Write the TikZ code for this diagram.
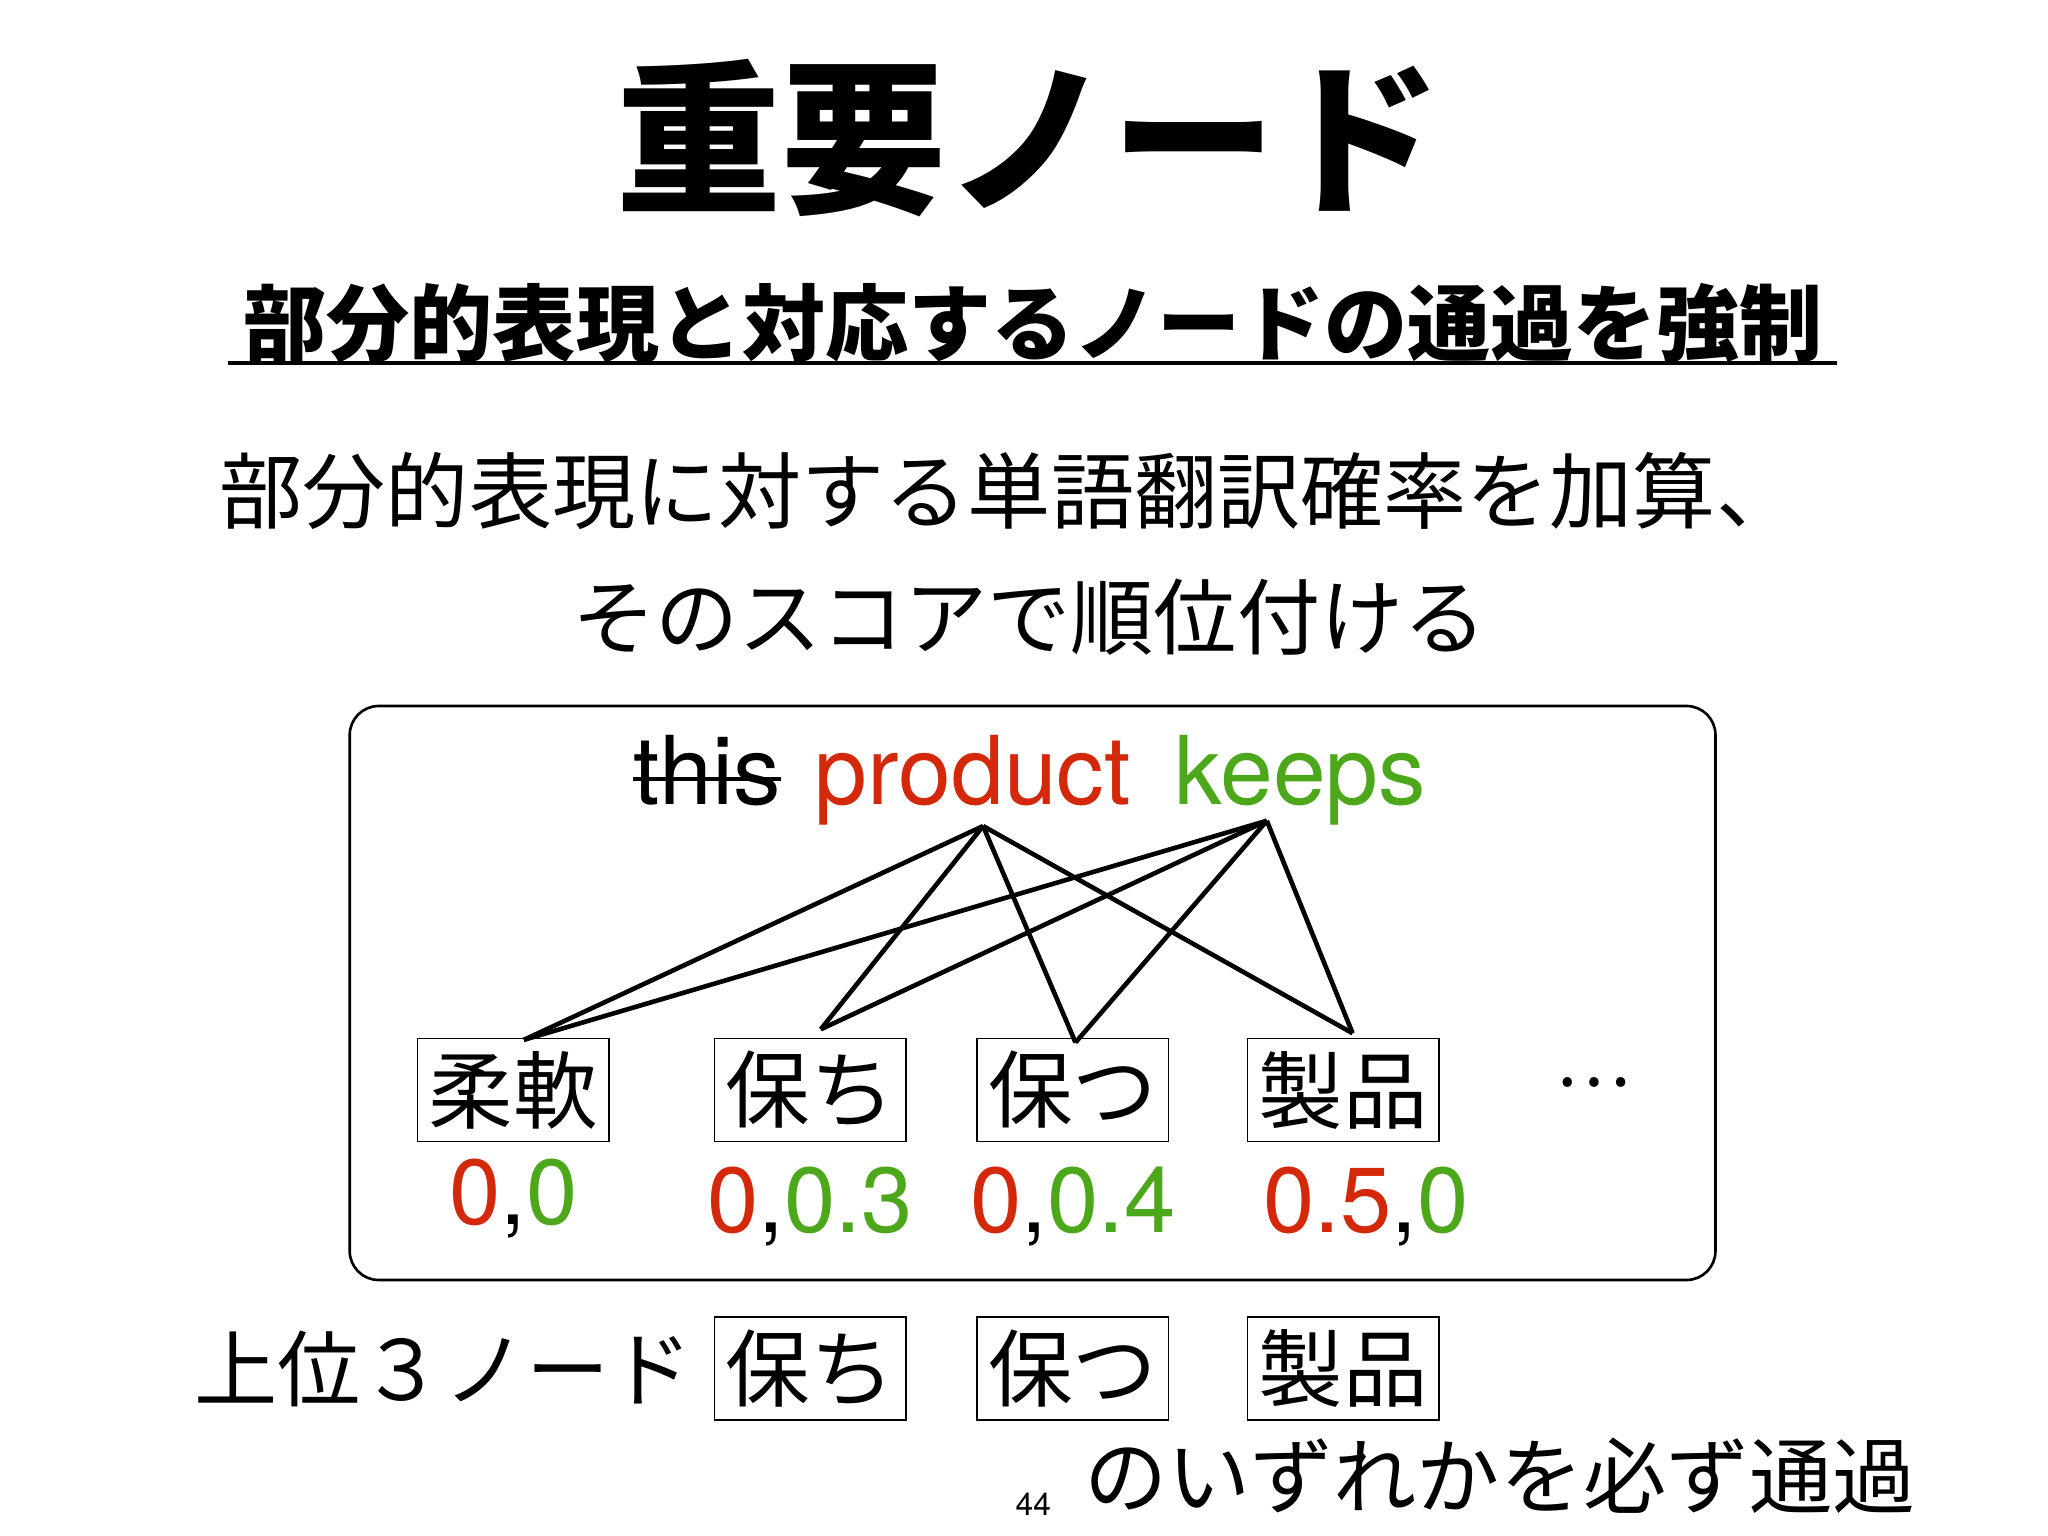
\documentclass[tikz,border=0pt]{standalone}
\usepackage{fontspec}
\newfontfamily\jp{Noto Sans CJK JP}
\newfontfamily\en{TeX Gyre Heros}
\definecolor{rd}{RGB}{212,40,10}
\definecolor{gn}{RGB}{76,168,26}
\begin{document}
\begin{tikzpicture}[x=1pt,y=-1pt,
  wbox/.style={draw,line width=1.2pt,minimum width=145pt,minimum height=78pt,inner sep=0pt,font=\jp\fontsize{64}{64}\selectfont},
  edge/.style={line width=3.5pt},
  sc/.style={font=\en\fontsize{70}{70}\selectfont,inner sep=0pt}]
\useasboundingbox (0,0) rectangle (1552,1164);
\fill[white] (0,0) rectangle (1552,1164);
\node (title) at (780,105) {\jp\bfseries\fontsize{125}{125}\selectfont 重要ノード};
\node (sub) at (783,245) {\jp\bfseries\fontsize{63}{63}\selectfont 部分的表現と対応するノードの通過を強制};
\draw[line width=3.5pt] (173,275) -- (1392,275);
\node (l1) at (765,372) {\jp\fontsize{63}{63}\selectfont 部分的表現に対する単語翻訳確率を加算、};
\node (l2) at (780,468) {\jp\fontsize{63}{63}\selectfont そのスコアで順位付ける};
\draw[rounded corners=22pt,line width=2pt] (265,535) rectangle (1300,970);
\node[inner sep=0pt,anchor=base west] (this) at (480,610) {\en\fontsize{72}{72}\selectfont this};
\draw[line width=3pt] (this.west|-0,590) -- (this.east|-0,590);
\node[inner sep=0pt,anchor=base west,text=rd] (prod) at (617,610) {\en\fontsize{72}{72}\selectfont product};
\node[inner sep=0pt,anchor=base west,text=gn] (keeps) at (890,610) {\en\fontsize{72}{72}\selectfont keeps};
\coordinate (pp) at (745,626);
\coordinate (kk) at (960,622);
\node[wbox] (a) at (389,826) {柔軟};
\node[wbox] (b) at (614,826) {保ち};
\node[wbox] (c) at (813,826) {保つ};
\node[wbox] (d) at (1018,826) {製品};
\node (dots) at (1207,820) {\jp\fontsize{54}{54}\selectfont …};
\coordinate (at) at (397,788);
\coordinate (bt) at (622,780);
\coordinate (ct) at (815,790);
\coordinate (dt) at (1025,783);
\draw[edge] (pp) -- (at); \draw[edge] (pp) -- (bt); \draw[edge] (pp) -- (ct); \draw[edge] (pp) -- (dt);
\draw[edge] (kk) -- (at); \draw[edge] (kk) -- (bt); \draw[edge] (kk) -- (ct); \draw[edge] (kk) -- (dt);
\node[sc] (sa) at (389,908) {\textcolor{rd}{0},\textcolor{gn}{0}};
\node[sc] (sb) at (614,914) {\textcolor{rd}{0},\textcolor{gn}{0.3}};
\node[sc] (scc) at (813,914) {\textcolor{rd}{0},\textcolor{gn}{0.4}};
\node[sc] (sd) at (1035,914) {\textcolor{rd}{0.5},\textcolor{gn}{0}};
\node[anchor=west,inner sep=0pt] (top3) at (147,1037) {\jp\fontsize{63}{63}\selectfont 上位３ノード};
\node[wbox] (b2) at (614,1037) {保ち};
\node[wbox] (c2) at (813,1037) {保つ};
\node[wbox] (d2) at (1018,1037) {製品};
\node (pg) at (783,1140) {\en\fontsize{24}{24}\selectfont 44};
\node[anchor=east,inner sep=0pt] (last) at (1452,1118) {\jp\fontsize{63}{63}\selectfont のいずれかを必ず通過};
\end{tikzpicture}
\end{document}
